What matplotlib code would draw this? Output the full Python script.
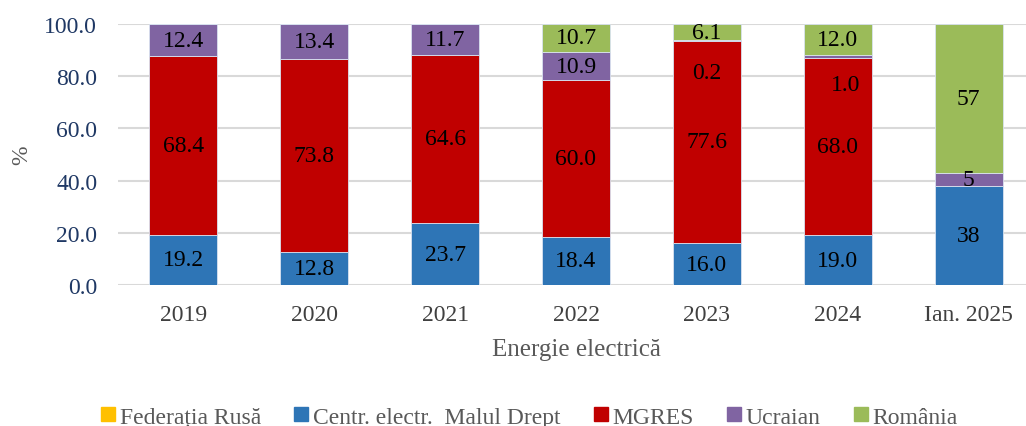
import matplotlib
matplotlib.use("Agg")
import matplotlib.pyplot as plt
import numpy as np
from matplotlib.lines import Line2D

categories = ["2019", "2020", "2021", "2022", "2023", "2024", "Ian. 2025"]
series_names = ["Federația Rusă", "Centr. electr.  Malul Drept", "MGRES", "Ucraian", "România"]
federatia_rusa = [0, 0, 0, 0, 0, 0, 0]
malul_drept = [19.2, 12.8, 23.7, 18.4, 16.0, 19.0, 38]
mgres = [68.4, 73.8, 64.6, 60.0, 77.6, 68.0, 0]
ucraian = [12.4, 13.4, 11.7, 10.9, 0.2, 1.0, 5]
romania = [0, 0, 0, 10.7, 6.1, 12.0, 57]
label_texts = {
    "malul": ["19.2", "12.8", "23.7", "18.4", "16.0", "19.0", "38"],
    "mgres": ["68.4", "73.8", "64.6", "60.0", "77.6", "68.0", ""],
    "ucraian": ["12.4", "13.4", "11.7", "10.9", "0.2", "1.0", "5"],
    "romania": ["", "", "", "10.7", "6.1", "12.0", "57"],
}
yticks = [0, 20, 40, 60, 80, 100]

colors = ["#FFC000", "#2E75B6", "#C00000", "#8064A2", "#9BBB59"]

plt.rcParams['font.family'] = ['Liberation Serif', 'DejaVu Serif']

fig = plt.figure(figsize=(10.26, 4.27), dpi=100)
ax = fig.add_axes([118/1026, 141/427, (1034-118)/1026, 261/427])

x = np.arange(len(categories))
w = 0.52
data = [federatia_rusa, malul_drept, mgres, ucraian, romania]
bottom = np.zeros(len(categories))
bars = []
for vals, c in zip(data, colors):
    v = np.array(vals, dtype=float)
    ax.bar(x, v, w, bottom=bottom, color=c, edgecolor="#D9E2F0", linewidth=0.6, zorder=3)
    bars.append((v, bottom.copy()))
    bottom = bottom + v

fs = 17
keys = ["malul", "mgres", "ucraian", "romania"]
for k, (v, bot) in zip(keys, bars[1:]):
    for i in range(len(categories)):
        t = label_texts[k][i]
        if not t:
            continue
        xi = x[i]
        yi = bot[i] + v[i] / 2
        if k == "ucraian" and categories[i] == "2023":
            yi = 81.5
        if k == "ucraian" and categories[i] == "2024":
            yi = 77.0
            xi = x[i] + 0.06
        ax.text(xi, yi, t, ha="center", va="center", fontsize=fs, color="black", zorder=5)

ax.set_xlim(-0.5, len(categories) - 0.5)
ax.set_ylim(0, 100)
ax.set_yticks(yticks)
ax.set_yticklabels([f"{v:.1f}" for v in yticks], color="#1F3864", fontsize=fs)
ax.set_xticks(x)
ax.set_xticklabels(categories, color="#404040", fontsize=fs)
ax.tick_params(axis="both", length=0)
ax.tick_params(axis="x", pad=14)
ax.tick_params(axis="y", pad=15)
ax.grid(axis="y", color="#D9D9D9", linewidth=1.5, zorder=0)
for s in ax.spines.values():
    s.set_visible(False)
ax.set_ylabel("%", color="#595959", fontsize=fs, labelpad=9)
ax.set_xlabel("Energie electrică", color="#595959", fontsize=18, labelpad=9)

handles = [Line2D([0], [0], marker="s", linestyle="none", markersize=10,
                  markerfacecolor=c, markeredgecolor=c) for c in colors]
fig.legend(handles, series_names, loc="center", bbox_to_anchor=(527/1026, 1 - 418/427),
           ncol=5, frameon=False, fontsize=fs, handletextpad=0.0, columnspacing=1.2,
           labelcolor="#595959", handlelength=1.0)

fig.savefig("out.png", dpi=100)
